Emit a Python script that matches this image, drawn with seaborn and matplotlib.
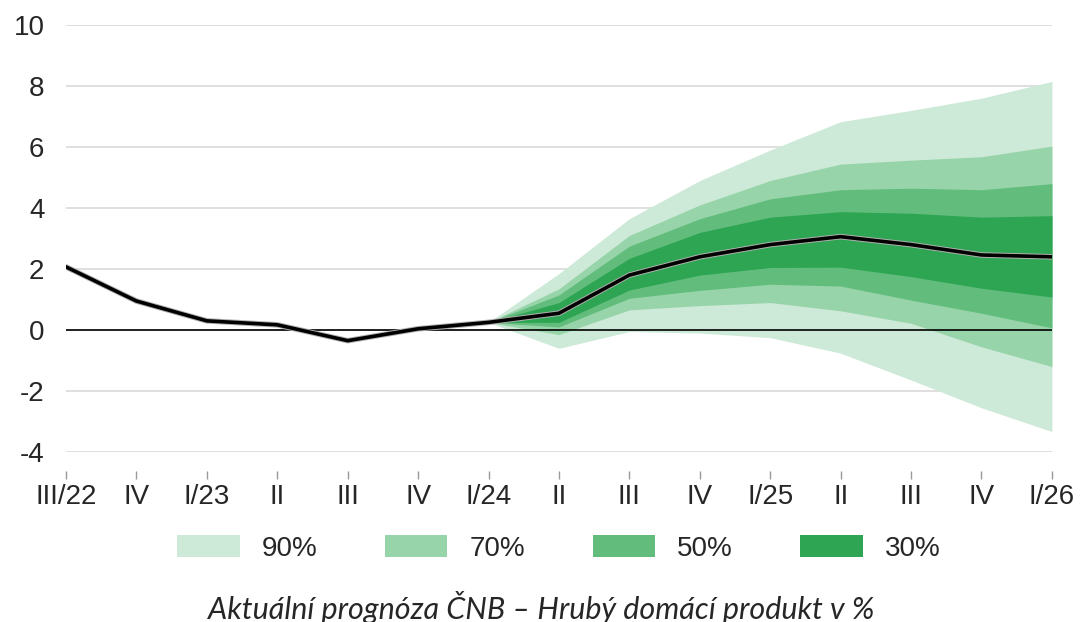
#!/usr/bin/env python3
"""Fan chart: ČNB GDP forecast, seaborn line + fill_between bands"""
import matplotlib; matplotlib.use("Agg")
import matplotlib.pyplot as plt
import matplotlib.patheffects as pe
from matplotlib.patches import Patch
import numpy as np
import seaborn as sns

quarters = ["III/22", "IV", "I/23", "II", "III", "IV", "I/24", "II", "III", "IV",
            "I/25", "II", "III", "IV", "I/26"]
central = [2.07, 0.95, 0.30, 0.17, -0.35, 0.04, 0.25, 0.55, 1.80, 2.40, 2.80, 3.06, 2.80, 2.46, 2.40]

# bands from I/24 onward
band_start = 6
upper_90 = [0.25, 1.85, 3.65, 4.90, 5.90, 6.83, 7.20, 7.60, 8.15]
lower_90 = [0.25, -0.60, -0.05, -0.10, -0.25, -0.76, -1.64, -2.55, -3.33]
upper_70 = [0.25, 1.35, 3.10, 4.10, 4.90, 5.44, 5.57, 5.68, 6.03]
lower_70 = [0.25, -0.15, 0.66, 0.80, 0.90, 0.63, 0.22, -0.55, -1.20]
upper_50 = [0.25, 1.15, 2.75, 3.65, 4.30, 4.60, 4.65, 4.60, 4.80]
lower_50 = [0.25, 0.10, 1.04, 1.30, 1.50, 1.44, 0.98, 0.55, 0.07]
upper_30 = [0.25, 0.90, 2.35, 3.20, 3.70, 3.88, 3.83, 3.70, 3.75]
lower_30 = [0.25, 0.25, 1.31, 1.80, 2.05, 2.06, 1.75, 1.37, 1.08]

bands = [("90%", upper_90, lower_90, "#cde9d7"),
         ("70%", upper_70, lower_70, "#98d4a9"),
         ("50%", upper_50, lower_50, "#62bd7d"),
         ("30%", upper_30, lower_30, "#2ea553")]

sns.set_style("white")
plt.rcParams["font.family"] = ["Liberation Sans", "DejaVu Sans"]
plt.rcParams["axes.unicode_minus"] = False

fig = plt.figure(figsize=(10.8, 6.22), dpi=100)
ax = fig.add_axes([0.0611, 0.2733, 0.9129, 0.6865])

x = np.arange(len(quarters))
xb = x[band_start:]
for label, up, lo, col in bands:
    ax.fill_between(xb, lo, up, color=col, lw=0, zorder=2)

ax.axhline(0, color="black", lw=1.2, zorder=3)
sns.lineplot(x=x, y=central, color="black", lw=2.6, ax=ax, zorder=4,
             path_effects=[pe.Stroke(linewidth=4.0, foreground="#b0b0b0"), pe.Normal()])

ax.set_xlim(0, len(quarters) - 1)
ax.set_ylim(-4, 10)
ax.set_yticks(range(-4, 11, 2))
ax.set_xticks(x)
ax.set_xticklabels(quarters)
ax.yaxis.grid(True, color="#d9d9d9", lw=1.2)
ax.set_axisbelow(True)
for s in ax.spines.values():
    s.set_visible(False)
ax.spines["bottom"].set_position(("outward", 14))
ax.tick_params(axis="x", bottom=True, length=6, width=1, color="#999999", pad=3, labelsize=20)
ax.tick_params(axis="y", left=False, pad=12, labelsize=20)

handles = [Patch(facecolor=c, edgecolor="none", label=l) for l, _, _, c in bands]
fig.legend(handles=handles, loc="center", bbox_to_anchor=(0.5176, 0.118), ncol=4, frameon=False,
           fontsize=20, handlelength=2.25, handleheight=0.8, handletextpad=0.8, columnspacing=2.42)

fig.text(0.501, 0.005, "Aktuální prognóza ČNB – Hrubý domácí produkt v %", ha="center", va="baseline",
         fontsize=22, style="italic", family=["Lato", "DejaVu Sans"])

fig.savefig("out.png", dpi=100)
